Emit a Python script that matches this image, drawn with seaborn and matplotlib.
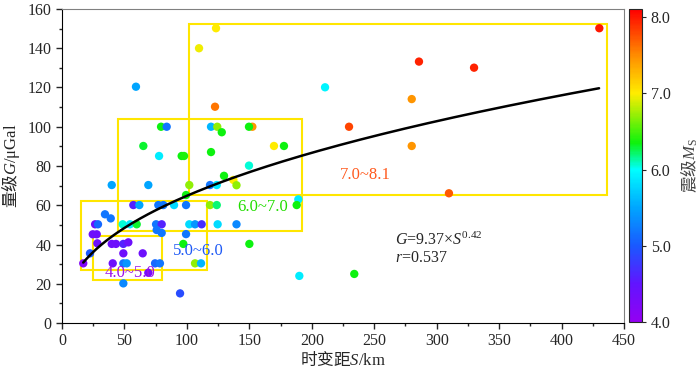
import numpy as np
import pandas as pd
import matplotlib
matplotlib.use('Agg')
import matplotlib.pyplot as plt
import seaborn as sns
from matplotlib.colors import LinearSegmentedColormap, Normalize
from matplotlib.cm import ScalarMappable
from matplotlib.patches import Rectangle
from matplotlib.ticker import MultipleLocator, FormatStrFormatter

# time-varying distance S (km), gravity change G (uGal), magnitude Ms
dist = [17, 22.4, 24.6, 27.8, 26.5, 28.8, 34.4, 39, 28.3, 39.8, 43.2, 49.1, 53.1,
        49.1, 64.6, 40.6, 49.1, 51.8, 49.1, 69.1, 74.5, 78.4, 57.1, 61.9, 77.1,
        81.1, 89.7, 99.3, 75.3, 79.8, 75.8, 79.8, 48.6, 54.4, 59.8, 39.8, 69.1,
        101.9, 118.5, 123.9, 101.9, 106.5, 111.8, 124.6, 139.7, 99.3, 97.1,
        106.5, 111.3, 94.5, 150, 190, 234, 118.5, 123.9, 189.2, 187.9, 99.3,
        59.2, 122.5, 152.4, 79.3, 83.8, 119.3, 124.3, 127.9, 149.7, 65.1, 169.7,
        177.7, 77.7, 95.8, 97.7, 119.3, 129.7, 137.2, 139.7, 149.7, 123.3, 109.7,
        430.2, 285.8, 329.9, 210.6, 280, 229.8, 280, 309.8]
grav = [30.4, 35.5, 45.2, 45.2, 50.3, 50.3, 55.4, 53.3, 40.6, 40.3, 40.3, 40.3, 41.1,
        35.5, 35.5, 30.4, 30.4, 30.4, 20.2, 25.6, 30.4, 30.4, 60.1, 60.1, 60.1,
        60.1, 60.1, 60.1, 50.3, 50.3, 47.4, 45.9, 50.3, 50.3, 50.3, 70.3, 70.3,
        70.3, 70.3, 70.3, 50.3, 50.3, 50.3, 50.3, 50.3, 45.3, 40.3,
        30.4, 30.4, 15.1, 40.3, 24, 25, 60.1, 60.1, 63, 60.1, 65.2,
        120.4, 110.2, 100, 100, 100, 100, 100, 97.2, 100, 90.2, 90.2,
        90.2, 85.1, 85.1, 85.1, 87.1, 75, 72.9, 70.2, 80.2, 150.2, 140,
        150.2, 133.2, 130.1, 120.1, 114.1, 100, 90.2, 66.1]
mag = [4.2, 5.0, 4.4, 4.4, 4.4, 5.1, 5.2, 5.2, 4.4, 4.4, 4.4, 4.6, 4.4,
       4.4, 4.4, 4.4, 5.2, 5.4, 5.3, 4.3, 5.1, 5.2, 4.6, 5.5, 5.2,
       5.2, 5.8, 5.2, 5.2, 4.6, 5.2, 5.2, 6.05, 5.9, 6.3, 5.5, 5.5,
       6.7, 5.2, 5.9, 5.8, 5.4, 4.7, 5.8, 5.3, 5.2, 6.35,
       6.7, 5.6, 4.9, 6.35, 5.9, 6.35, 6.7, 6.2, 5.9, 6.35, 6.35,
       5.5, 7.6, 7.45, 6.35, 5.2, 5.6, 6.7, 6.35, 6.35, 6.3, 7.0,
       6.35, 5.9, 6.35, 6.4, 6.35, 6.35, 7.0, 6.7, 6.05, 7.0, 6.95,
       8.0, 7.95, 7.95, 5.95, 7.45, 7.8, 7.45, 7.7]

# fitted relation G = a * S^b
fit_a, fit_b = 9.37, 0.42
fit_range = (17, 430)

# magnitude-range boxes
box_x0 = [102, 45, 15, 25]
box_x1 = [436, 192, 116, 80]
box_y0 = [65, 47, 27, 22]
box_y1 = [152.5, 104, 62.3, 44.3]
range_text = ['7.0~8.1', '6.0~7.0', '5.0~6.0', '4.0~5.0']
range_x = [243, 160.5, 108.8, 54.8]
range_y = [75.4, 58.9, 36.7, 25.5]
range_color = ['#ff5a1e', '#22dd00', '#1f5af5', '#9b10e8']

df = pd.DataFrame({'dist': dist, 'grav': grav, 'mag': mag})

sns.set_style('ticks')
plt.rcParams['font.family'] = ['Liberation Serif', 'Noto Sans CJK SC']
plt.rcParams['mathtext.fontset'] = 'custom'
plt.rcParams['mathtext.rm'] = 'Liberation Serif'
plt.rcParams['mathtext.it'] = 'Liberation Serif:italic'

cnodes = [(4.0, (0.58, 0.0, 0.95)), (4.5, (0.38, 0.08, 1.0)), (5.0, (0.1, 0.35, 1.0)),
          (5.5, (0.0, 0.65, 1.0)), (6.0, (0.0, 1.0, 1.0)), (6.35, (0.05, 0.95, 0.05)),
          (7.0, (1.0, 0.93, 0.0)), (7.5, (1.0, 0.55, 0.0)), (8.1, (1.0, 0.0, 0.0))]
vmin, vmax = 4.0, 8.1
cmap = LinearSegmentedColormap.from_list(
    'ms', [((v - vmin) / (vmax - vmin), c) for v, c in cnodes])
norm = Normalize(vmin, vmax)

fig = plt.figure(figsize=(7, 3.7), dpi=100)
ax = fig.add_axes([0.0886, 0.127, 0.8029, 0.8487])
cax = fig.add_axes([0.8986, 0.129, 0.018, 0.846])

for x0, x1, y0, y1 in zip(box_x0, box_x1, box_y0, box_y1):
    ax.add_patch(Rectangle((x0, y0), x1 - x0, y1 - y0, fill=False,
                           edgecolor='#ffe600', lw=1.5, zorder=2))

sns.scatterplot(data=df, x='dist', y='grav', hue='mag', palette=cmap, hue_norm=norm,
                s=36, linewidth=0, legend=False, ax=ax, zorder=3)

s_fit = np.linspace(fit_range[0], fit_range[1], 200)
sns.lineplot(x=s_fit, y=fit_a * s_fit ** fit_b, color='black', lw=1.8, ax=ax, zorder=4)

for t, x, y, c in zip(range_text, range_x, range_y, range_color):
    ax.text(x, y, t, color=c, fontsize=12, ha='center', va='center', zorder=5)

ax.text(266.5, 42.3, '$G$=9.37×$S^{0.42}$', fontsize=11.5, ha='left', va='center')
ax.text(266.5, 33.1, '$r$=0.537', fontsize=11.5, ha='left', va='center')

ax.set_xlim(0, 450)
ax.set_ylim(0, 160)
ax.xaxis.set_major_locator(MultipleLocator(50))
ax.xaxis.set_minor_locator(MultipleLocator(25))
ax.yaxis.set_major_locator(MultipleLocator(20))
ax.yaxis.set_minor_locator(MultipleLocator(10))
ax.tick_params(which='both', direction='out', top=False, right=False, labelsize=11.5)
ax.tick_params(which='major', length=4, width=1)
ax.tick_params(which='minor', length=2.5, width=1)
for side in ['left', 'bottom']:
    ax.spines[side].set_color('black')
for side in ['top', 'right']:
    ax.spines[side].set_color('#808080')

ax.set_xlabel('时变距$S\\mathrm{/km}$', fontfamily='Noto Sans CJK SC', fontsize=12, labelpad=1)
ax.set_ylabel('量级$G\\mathrm{/μGal}$', fontfamily='Noto Sans CJK SC', fontsize=12, labelpad=4)

sm = ScalarMappable(norm=norm, cmap=cmap)
cb = fig.colorbar(sm, cax=cax, ticks=[4, 5, 6, 7, 8])
cb.ax.yaxis.set_major_formatter(FormatStrFormatter('%.1f'))
cb.ax.tick_params(labelsize=11.5, length=3, direction='out')
cb.outline.set_linewidth(0.8)
cb.set_label('震级$M_\\mathrm{S}$', fontfamily='Noto Sans CJK SC', fontsize=12,
             color='#444444', labelpad=6)

fig.savefig('out.png', dpi=100)
